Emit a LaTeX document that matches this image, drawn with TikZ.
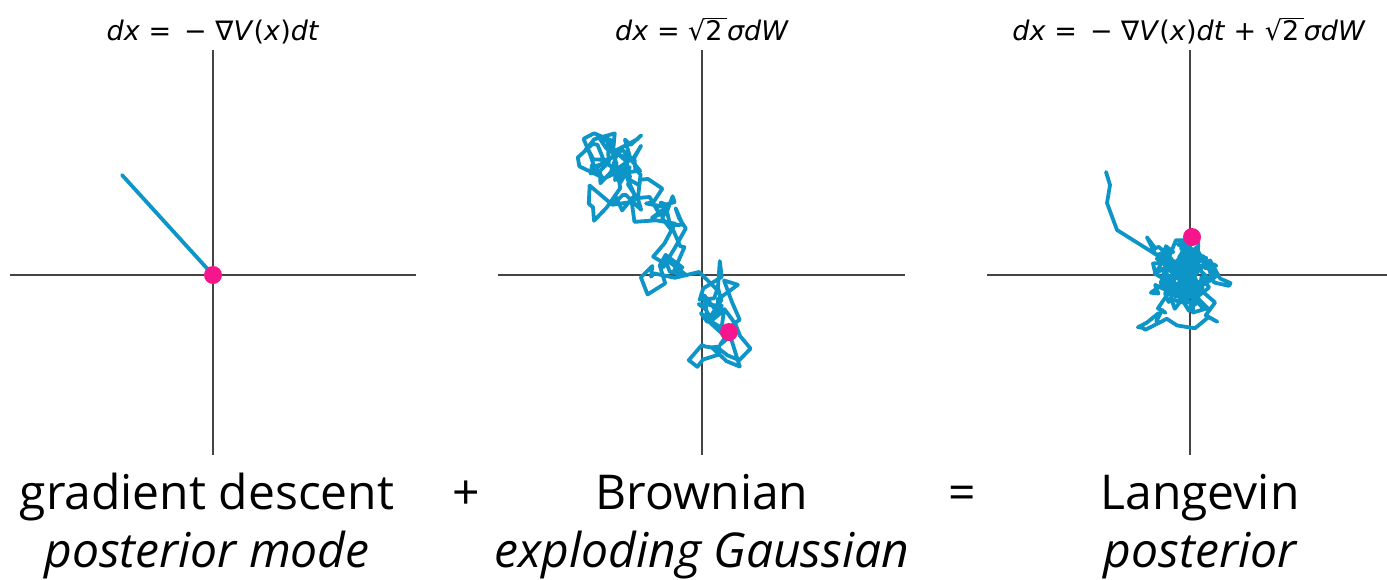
\documentclass[tikz,border=0pt]{standalone}
\usepackage{fontspec}
\setmainfont{Open Sans}
\newfontfamily\dejavu{DejaVu Sans}
\definecolor{walkblue}{HTML}{0E95C8}
\definecolor{dotpink}{HTML}{F5158C}
\definecolor{axisgray}{HTML}{444444}
\tikzset{
  axisline/.style={draw=axisgray, line width=1.8pt},
  walk/.style={draw=walkblue, line width=3.8pt, line join=round, line cap=round},
  gdline/.style={draw=walkblue, line width=3.8pt, line cap=round},
  pinkdot/.style={circle, fill=dotpink, inner sep=0pt, minimum size=18pt},
  title/.style={font=\dejavu\fontsize{27}{30}\selectfont, anchor=base, inner sep=0pt},
  bigtext/.style={font=\fontsize{48}{52}\selectfont, anchor=base, inner sep=0pt},
}
\newcommand\sqtwo{\raisebox{0pt}{√}$\overline{\hbox{\dejavu 2\,}}$}
% random walk helpers
\newcommand\walkseg[5]{% tx ty steps noise attraction
  \foreach \k in {1,...,#3}{%
    \pgfmathsetmacro\nx{\wx+#5*(#1-\wx)+#4*rand}%
    \pgfmathsetmacro\ny{\wy+#5*(#2-\wy)+#4*rand}%
    \xdef\wx{\nx}\xdef\wy{\ny}%
    \xdef\wpath{\wpath -- (\wx,\wy)}%
  }%
}
\newcommand\walkstart[2]{\xdef\wx{#1}\xdef\wy{#2}\xdef\wpath{(#1,#2)}}
\newcommand\walkto[2]{\xdef\wx{#1}\xdef\wy{#2}\xdef\wpath{\wpath -- (#1,#2)}}
\begin{document}
\begin{tikzpicture}[x=1pt,y=-1pt]
\useasboundingbox (0,0) rectangle (1387,579);
% axes
\coordinate (a1l) at (10,275); \coordinate (a1r) at (416,275);
\coordinate (a1t) at (213,50); \coordinate (a1b) at (213,455);
\coordinate (a2l) at (498,275); \coordinate (a2r) at (905,275);
\coordinate (a2t) at (702,50); \coordinate (a2b) at (702,455);
\coordinate (a3l) at (987,275); \coordinate (a3r) at (1387,275);
\coordinate (a3t) at (1190,50); \coordinate (a3b) at (1190,455);
\draw[axisline] (a1l) -- (a1r); \draw[axisline] (a1t) -- (a1b);
\draw[axisline] (a2l) -- (a2r); \draw[axisline] (a2t) -- (a2b);
\draw[axisline] (a3l) -- (a3r); \draw[axisline] (a3t) -- (a3b);
% gradient descent
\coordinate (gdstart) at (122,175);
\coordinate (gdend) at (213,275);
\draw[gdline] (gdstart) -- (gdend);
\node[pinkdot] (gddot) at (gdend) {};
% brownian walk
\pgfmathsetseed{11}
\walkstart{605}{178}
\walkseg{568}{138}{28}{20}{0.12}
\walkseg{570}{198}{30}{20}{0.12}
\walkseg{645}{195}{40}{18}{0.12}
\walkseg{670}{240}{14}{18}{0.18}
\walkseg{660}{282}{12}{17}{0.2}
\walkseg{708}{278}{10}{18}{0.2}
\walkseg{728}{318}{22}{19}{0.18}
\walkseg{758}{330}{10}{18}{0.2}
\walkseg{718}{360}{12}{18}{0.2}
\walkto{729}{332}
\draw[walk] \wpath;
\node[pinkdot] (bend) at (729,332) {};
% langevin walk
\pgfmathsetseed{5}
\walkstart{1106}{172}
\walkto{1110}{185}
\walkto{1107}{203}
\walkto{1117}{230}
\walkto{1160}{257}
\walkseg{1185}{278}{210}{17}{0.15}
\walkseg{1192}{250}{4}{10}{0.3}
\walkto{1192}{237}
\draw[walk] \wpath;
\node[pinkdot] (lend) at (1192,237) {};
% titles
\node[title] (t1) at (213,40) {\textit{dx} = \,− ∇\textit{V}(\textit{x})\textit{dt}};
\node[title] (t2) at (702,40) {\textit{dx} = \sqtwo\textit{σdW}};
\node[title] (t3) at (1189,40) {\textit{dx} = \,− ∇\textit{V}(\textit{x})\textit{dt} + \sqtwo\textit{σdW}};
% labels
\node[bigtext] (l1a) at (207,509) {gradient descent};
\node[bigtext] (l1b) at (207,567) {\itshape posterior mode};
\node[bigtext] (plus) at (466,509) {+};
\node[bigtext] (l2a) at (702,509) {Brownian};
\node[bigtext] (l2b) at (702,567) {\itshape exploding Gaussian};
\node[bigtext] (eq) at (962,509) {=};
\node[bigtext] (l3a) at (1200,509) {Langevin};
\node[bigtext] (l3b) at (1200,567) {\itshape posterior};
\end{tikzpicture}
\end{document}
